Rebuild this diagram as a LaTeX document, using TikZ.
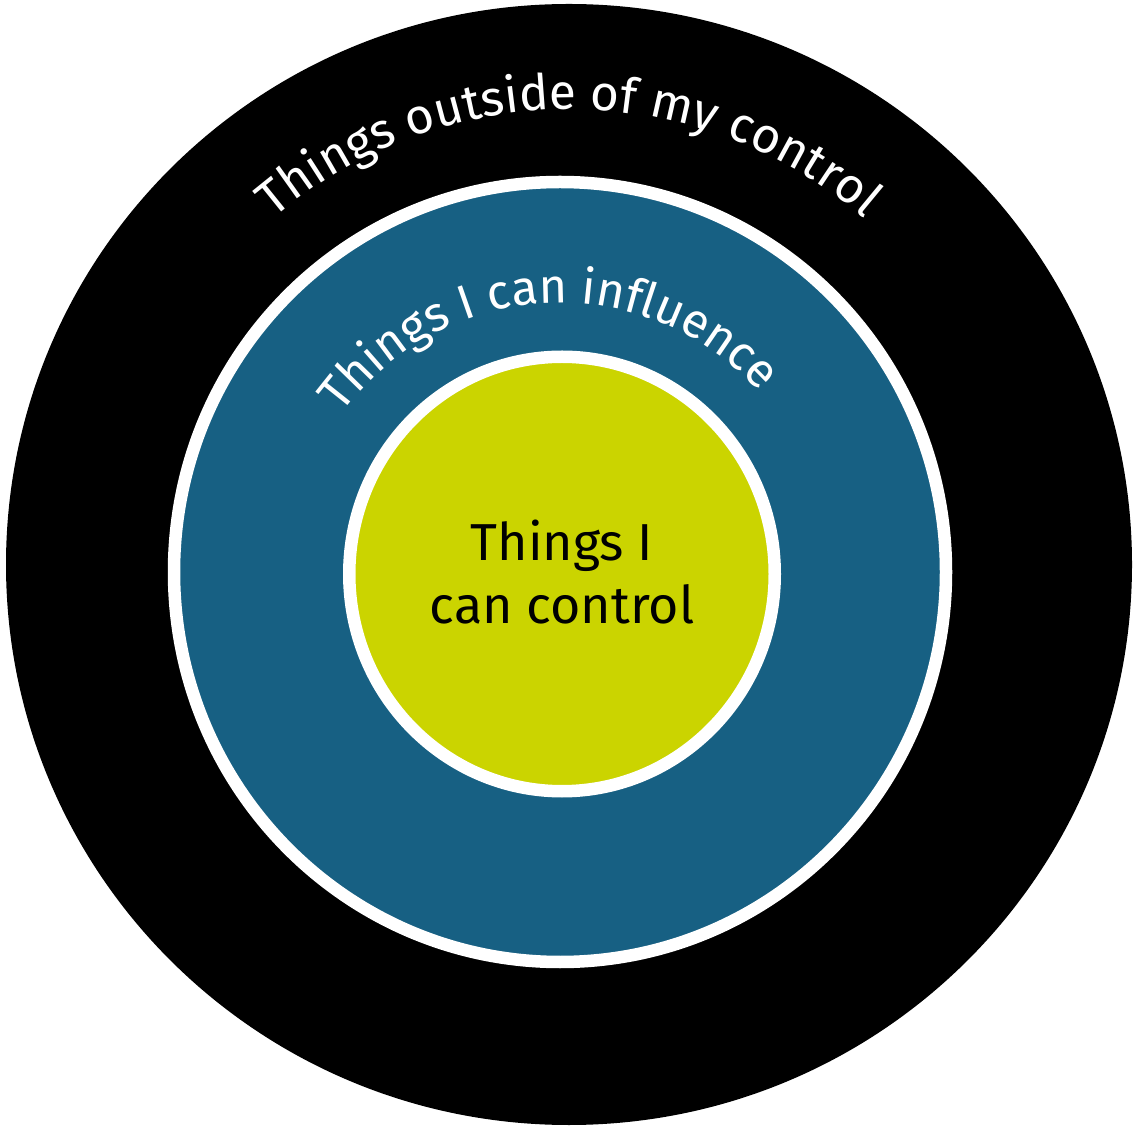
\documentclass[tikz,border=0pt]{standalone}
\usepackage{fontspec}
\setmainfont{Fira Sans}
\usetikzlibrary{decorations.text}
\definecolor{influenceblue}{RGB}{23,96,131}
\definecolor{controlgreen}{RGB}{203,212,0}

\begin{document}
\begin{tikzpicture}[x=1pt, y=1pt,
    ring/.style={draw=white, line width=12.5pt, fill=#1},
    arclabel/.style={decorate, decoration={text along path,
                     text align=center, text color=white, text={#1}}},
  ]
    \useasboundingbox (0,0) rectangle (1135,1128);
    \coordinate (outer)  at (569,563.5);
    \coordinate (middle) at (560,556);
    \coordinate (inner)  at (562,554);

    % Circles
    \fill[black] (outer) ellipse [x radius=563pt, y radius=560.5pt];
    \draw[ring=influenceblue] (middle) ellipse [x radius=386pt, y radius=390pt];
    \draw[ring=controlgreen] (inner) ellipse [x radius=212.75pt, y radius=217.25pt];

    % Arc labels
    \path[arclabel={|\fontsize{49.5}{49.5}\selectfont|Things outside of my control}]
      (outer) ++(140:455pt) arc [start angle=140, end angle=40, radius=455pt];
    \path[arclabel={|\fontsize{48.5}{48.5}\selectfont|Things I can influence}]
      (middle) ++(153:269pt) arc [start angle=153, end angle=33, radius=269pt];

    % Centre label
    \node[align=center, font=\fontsize{52}{63}\selectfont, inner sep=0pt]
      (control) at (562,556) {Things I\\can control};
\end{tikzpicture}
\end{document}
